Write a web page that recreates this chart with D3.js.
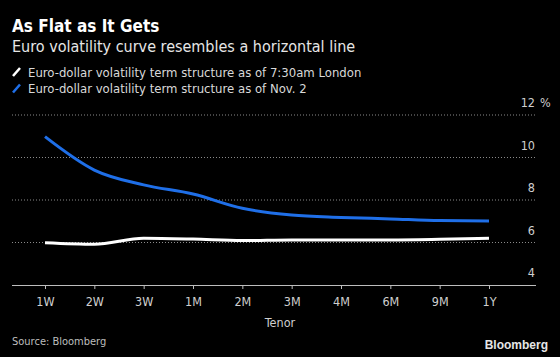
<!DOCTYPE html>
<html><head><meta charset="utf-8">
<script src="https://cdn.jsdelivr.net/npm/d3@7"></script>
<style>
html,body{margin:0;padding:0;background:#000;}
svg{display:block;}
text{font-family:"DejaVu Sans",sans-serif;font-stretch:condensed;}
</style></head>
<body>
<svg id="c" width="560" height="357"></svg>
<script>
const categories = ["1W","2W","3W","1M","2M","3M","4M","6M","9M","1Y"];
const seriesToday = [5.99,5.92,6.2,6.16,6.09,6.12,6.12,6.12,6.15,6.2];
const seriesNov2 = [10.98,9.41,8.71,8.28,7.61,7.29,7.18,7.11,7.03,7.01];
const yTicks = [4,6,8,10,12];
const legendLabels = ["Euro-dollar volatility term structure as of 7:30am London","Euro-dollar volatility term structure as of Nov. 2"];
const seriesColors = ["#ffffff","#1f6fe8"];

const svg = d3.select("#c");
svg.append("rect").attr("width",560).attr("height",357).attr("fill","#000");

svg.append("text").attr("x",12).attr("y",32).attr("fill","#fff")
  .style("font-size","17px").style("font-weight","bold").text("As Flat as It Gets");
svg.append("text").attr("x",12).attr("y",52).attr("fill","#e6e6e6")
  .style("font-size","16px").text("Euro volatility curve resembles a horizontal line");

legendLabels.forEach((l,i)=>{
  const cy = 72 + i*16.5;
  svg.append("line").attr("x1",13).attr("y1",cy+4).attr("x2",20).attr("y2",cy-4)
    .attr("stroke",seriesColors[i]).attr("stroke-width",2.5);
  svg.append("text").attr("x",28).attr("y",cy+4.5).attr("fill","#d9d9d9")
    .style("font-size","13px").text(l);
});

const x = d3.scalePoint().domain(categories).range([45,489]);
const y = d3.scaleLinear().domain([4,12]).range([285,115]);

svg.append("g").selectAll("line").data(yTicks.filter(t=>t>4)).join("line")
  .attr("x1",12).attr("x2",536).attr("y1",d=>y(d)).attr("y2",d=>y(d))
  .attr("stroke","#8a8a8a").attr("stroke-width",1).attr("stroke-dasharray","1,2");

svg.append("g").selectAll("text").data(yTicks).join("text")
  .attr("x",535).attr("y",d=>y(d)-8).attr("text-anchor","end")
  .attr("fill","#cfcfcf").style("font-size","12.5px").text(d=>d);
svg.append("text").attr("x",540).attr("y",y(12)-8).attr("fill","#cfcfcf")
  .style("font-size","12.5px").text("%");

const xAxis = svg.append("g").attr("transform","translate(0,285)")
  .call(d3.axisBottom(x).tickSize(4).tickPadding(8));
xAxis.select(".domain").remove();
xAxis.selectAll("line").attr("stroke","#bdbdbd");
xAxis.selectAll("text").attr("fill","#cfcfcf").style("font-size","12.5px")
  .style("font-family","DejaVu Sans").style("font-stretch","condensed");
svg.append("line").attr("x1",12).attr("x2",536).attr("y1",285.5).attr("y2",285.5)
  .attr("stroke","#bdbdbd").attr("stroke-width",1);

svg.append("text").attr("x",280).attr("y",327).attr("text-anchor","middle")
  .attr("fill","#cfcfcf").style("font-size","12.5px").text("Tenor");

const line = d3.line().x((d,i)=>x(categories[i])).y(d=>y(d)).curve(d3.curveMonotoneX);
[seriesToday, seriesNov2].forEach((s,i)=>{
  svg.append("path").datum(s).attr("d",line).attr("fill","none")
    .attr("stroke",seriesColors[i]).attr("stroke-width",3);
});

svg.append("text").attr("x",12).attr("y",345).attr("fill","#bdbdbd")
  .style("font-size","11px").text("Source: Bloomberg");
svg.append("text").attr("x",548).attr("y",349).attr("text-anchor","end").attr("fill","#e6e6e6")
  .style("font-size","12px").style("font-weight","bold").style("font-stretch","normal")
  .style("font-family","Liberation Sans, Arial, sans-serif").text("Bloomberg");
</script>
</body></html>
